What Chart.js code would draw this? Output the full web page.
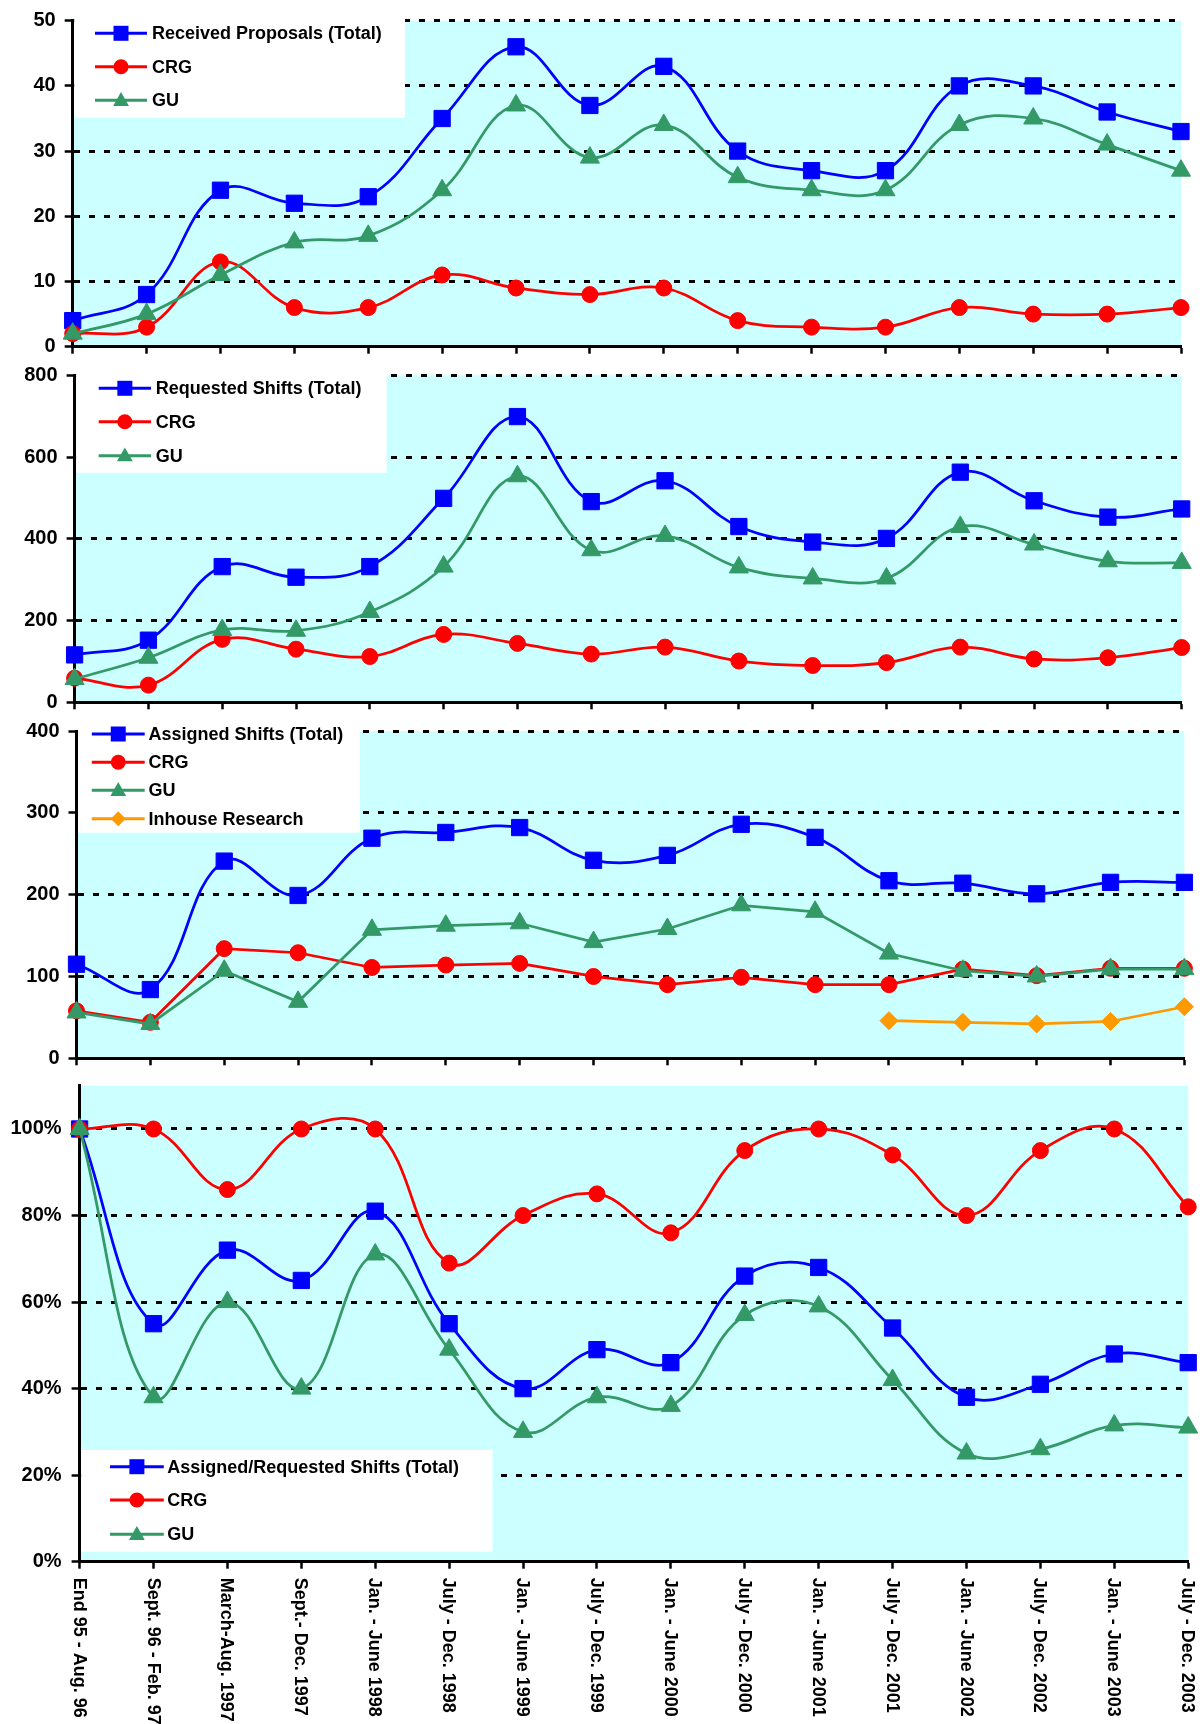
<!DOCTYPE html>
<html>
<head>
<meta charset="utf-8">
<title>Proposals and shifts</title>
<script src="https://cdn.jsdelivr.net/npm/chart.js@4.4.1/dist/chart.umd.min.js"></script>
<style>
    html, body { margin: 0; padding: 0; background: #fff; }
    body { width: 1202px; height: 1724px; position: relative; overflow: hidden; }
    canvas { position: absolute; left: 0; }
</style>
</head>
<body>
<canvas id="proposals" width="1202" height="362" style="top:0px"></canvas>
<canvas id="requested" width="1202" height="353" style="top:362px"></canvas>
<canvas id="assigned" width="1202" height="356" style="top:715px"></canvas>
<canvas id="ratio" width="1202" height="653" style="top:1071px"></canvas>
<script>
// =====================
// DATA
// =====================
const periods = [
    "End 95 - Aug. 96", "Sept. 96 - Feb. 97", "March-Aug. 1997", "Sept.- Dec. 1997",
    "Jan. - June 1998", "July - Dec. 1998", "Jan. - June 1999", "July - Dec. 1999",
    "Jan. - June 2000", "July - Dec. 2000", "Jan. - June 2001", "July - Dec. 2001",
    "Jan. - June 2002", "July - Dec. 2002", "Jan. - June 2003", "July - Dec. 2003"
];

const proposalsTotal = [4, 8, 24, 22, 23, 35, 46, 37, 43, 30, 27, 27, 40, 40, 36, 33];
const proposalsCRG   = [2, 3, 13, 6, 6, 11, 9, 8, 9, 4, 3, 3, 6, 5, 5, 6];
const proposalsGU    = [2, 5, 11, 16, 17, 24, 37, 29, 34, 26, 24, 24, 34, 35, 31, 27];
const proposalTicks  = [0, 10, 20, 30, 40, 50];

const requestedTotal = [116, 152, 332, 306, 332, 499, 699, 491, 542, 430, 392, 401, 563, 493, 453, 473];
const requestedCRG   = [59, 42, 154, 130, 112, 166, 144, 118, 135, 101, 90, 97, 135, 106, 109, 134];
const requestedGU    = [57, 109, 177, 175, 221, 332, 553, 372, 407, 330, 303, 303, 429, 386, 345, 341];
const requestedTicks = [0, 200, 400, 600, 800];

const assignedTotal   = [115, 84, 241, 199, 269, 276, 282, 242, 248, 286, 270, 217, 214, 201, 215, 215];
const assignedCRG     = [58, 44, 134, 129, 111, 114, 116, 100, 90, 99, 90, 90, 109, 101, 110, 110];
const assignedGU      = [56, 42, 107, 69, 157, 162, 165, 142, 158, 187, 179, 128, 107, 100, 109, 109];
const assignedInhouse = [null, null, null, null, null, null, null, null, null, null, null, 46, 44, 42, 45, 63];
const assignedTicks   = [0, 100, 200, 300, 400];

const ratioTotal = [100, 55, 72, 65, 81, 55, 40, 49, 46, 66, 68, 54, 38, 41, 48, 46];
const ratioCRG   = [100, 100, 86, 100, 100, 69, 80, 85, 76, 95, 100, 94, 80, 95, 100, 82];
const ratioGU    = [100, 38, 60, 40, 71, 49, 30, 38, 36, 57, 59, 42, 25, 26, 31.5, 31];
const ratioTicks = [0, 20, 40, 60, 80, 100];

// =====================
// STYLE
// =====================
const BLUE = '#0000ff', RED = '#ff0000', GREEN = '#339966', ORANGE = '#ff9900';
const CYAN = '#ccffff';
const FONT = '"Liberation Sans", Arial, Helvetica, sans-serif';
const RADIUS = { rect: 11.5, circle: 8, triangle: 11, rectRot: 9 };

function series(label, data, color, style, smooth, order) {
    return {
        label, data, order,
        borderColor: color, backgroundColor: color, borderWidth: 2.75,
        pointStyle: style, pointRadius: RADIUS[style], pointHoverRadius: RADIUS[style],
        pointBackgroundColor: color, pointBorderColor: color, pointBorderWidth: 1,
        tension: smooth ? 0.4 : 0, fill: false, clip: false, spanGaps: false
    };
}

function drawMarker(ctx, style, x, y, r, color) {
    ctx.fillStyle = color;
    ctx.beginPath();
    if (style === 'rect') {
        ctx.rect(x - r, y - r, 2 * r, 2 * r);
    } else if (style === 'circle') {
        ctx.arc(x, y, r, 0, Math.PI * 2);
    } else if (style === 'triangle') {
        ctx.moveTo(x, y - r * 1.1);
        ctx.lineTo(x + r * 1.05, y + r * 0.75);
        ctx.lineTo(x - r * 1.05, y + r * 0.75);
        ctx.closePath();
    } else {
        ctx.moveTo(x, y - r);
        ctx.lineTo(x + r, y);
        ctx.lineTo(x, y + r);
        ctx.lineTo(x - r, y);
        ctx.closePath();
    }
    ctx.fill();
}

// =====================
// PLUGINS
// =====================
const plotBackground = {
    id: 'plotBackground',
    beforeDraw(chart) {
        const { ctx, chartArea: a } = chart;
        ctx.save();
        ctx.fillStyle = CYAN;
        ctx.fillRect(a.left, a.top, a.right - a.left, a.bottom - a.top);
        ctx.restore();
    }
};

// white legend box sitting inside the plot, over the grid
const boxLegend = {
    id: 'boxLegend',
    beforeDatasetsDraw(chart, args, o) {
        const { ctx, chartArea: a } = chart;
        ctx.save();
        ctx.fillStyle = '#fff';
        ctx.fillRect(a.left + 1.5, o.top, o.right - a.left - 1.5, o.bottom - o.top);
        chart.data.datasets.forEach((ds, i) => {
            const y = o.rows[i];
            ctx.strokeStyle = ds.borderColor;
            ctx.lineWidth = 3;
            ctx.beginPath();
            ctx.moveTo(o.lineFrom, y);
            ctx.lineTo(o.lineTo, y);
            ctx.stroke();
            drawMarker(ctx, ds.pointStyle, (o.lineFrom + o.lineTo) / 2, y, 7.5, ds.borderColor);
            ctx.fillStyle = '#000';
            ctx.font = 'bold 18px ' + FONT;
            ctx.textAlign = 'left';
            ctx.textBaseline = 'middle';
            ctx.fillText(ds.label, o.textX, y + 1);
        });
        ctx.restore();
    }
};

// category labels written downwards under the bottom axis
const downLabels = {
    id: 'downLabels',
    afterDraw(chart, args, o) {
        if (!o.show) return;
        const { ctx, chartArea: a } = chart;
        const xs = chart.scales.x;
        ctx.save();
        ctx.font = 'bold 18px ' + FONT;
        ctx.fillStyle = '#000';
        ctx.textAlign = 'left';
        ctx.textBaseline = 'middle';
        periods.forEach((t, i) => {
            ctx.save();
            ctx.translate(xs.getPixelForValue(i) - 1, a.bottom + 16);
            ctx.rotate(Math.PI / 2);
            ctx.fillText(t, 0, 0);
            ctx.restore();
        });
        ctx.restore();
    }
};

// =====================
// PANELS
// =====================
function makePanel(id, p) {
    const canvas = document.getElementById(id);
    const top = parseFloat(canvas.style.top);
    const height = canvas.height;
    const local = v => v - top;

    return new Chart(canvas, {
        type: 'line',
        data: { labels: periods, datasets: p.datasets },
        plugins: [plotBackground, boxLegend, downLabels],
        options: {
            responsive: false, animation: false, events: [],
            layout: { padding: { top: local(p.area.top), right: 1202 - p.area.right, left: 0, bottom: 0 } },
            plugins: {
                legend: { display: false },
                tooltip: { enabled: false },
                boxLegend: {
                    top: local(p.legend.top), bottom: local(p.legend.bottom), right: p.legend.right,
                    rows: p.legend.rows.map(local), lineFrom: p.legend.lineFrom, lineTo: p.legend.lineTo,
                    textX: p.legend.textX
                },
                downLabels: { show: !!p.labels }
            },
            scales: {
                x: {
                    type: 'category', offset: false,
                    ticks: { display: false, autoSkip: false },
                    grid: { drawOnChartArea: false, drawTicks: true, tickLength: 7, tickColor: '#000', tickWidth: 2.5 },
                    border: { color: '#000', width: 3 },
                    afterFit: s => { s.height = height - local(p.area.bottom); s.paddingLeft = 0; s.paddingRight = 0; }
                },
                y: {
                    min: 0, max: p.yMax,
                    afterBuildTicks: s => { s.ticks = p.ticks.map(v => ({ value: v })); },
                    ticks: {
                        color: '#000', padding: p.tickPad,
                        font: { family: FONT, size: 20, weight: 'bold' },
                        callback: v => v + (p.suffix || '')
                    },
                    grid: {
                        color: c => (c.tick && c.tick.value === 0) ? 'rgba(0,0,0,0)' : '#000',
                        lineWidth: 3, tickColor: '#000', tickWidth: 2.5, tickLength: 8
                    },
                    border: { color: '#000', width: 3, dash: [6, 9] },
                    afterFit: s => { s.width = p.area.left; s.paddingTop = 0; s.paddingBottom = 0; }
                }
            }
        }
    });
}

makePanel('proposals', {
    area: { left: 72.7, right: 1181, top: 20.7, bottom: 346.7 },
    yMax: 50, ticks: proposalTicks, tickPad: 9,
    legend: { top: 17, bottom: 117.7, right: 405, rows: [33.3, 66.7, 100.3], lineFrom: 95, lineTo: 147, textX: 152 },
    datasets: [
        series('Received Proposals (Total)', proposalsTotal, BLUE, 'rect', true, 3),
        series('CRG', proposalsCRG, RED, 'circle', true, 2),
        series('GU', proposalsGU, GREEN, 'triangle', true, 1)
    ]
});

makePanel('requested', {
    area: { left: 74.6, right: 1181.7, top: 375.3, bottom: 702.3 },
    yMax: 800, ticks: requestedTicks, tickPad: 9,
    legend: { top: 372, bottom: 472.7, right: 386.5, rows: [388.3, 421.7, 455.7], lineFrom: 98.7, lineTo: 151, textX: 155.8 },
    datasets: [
        series('Requested Shifts (Total)', requestedTotal, BLUE, 'rect', true, 3),
        series('CRG', requestedCRG, RED, 'circle', true, 2),
        series('GU', requestedGU, GREEN, 'triangle', true, 1)
    ]
});

makePanel('assigned', {
    area: { left: 76.5, right: 1184.4, top: 731, bottom: 1058.3 },
    yMax: 400, ticks: assignedTicks, tickPad: 9,
    legend: { top: 728, bottom: 832.7, right: 359.7, rows: [734, 762.3, 790.3, 818.7], lineFrom: 91.8, lineTo: 144.7, textX: 148.5 },
    datasets: [
        series('Assigned Shifts (Total)', assignedTotal, BLUE, 'rect', true, 3),
        series('CRG', assignedCRG, RED, 'circle', false, 2),
        series('GU', assignedGU, GREEN, 'triangle', false, 1),
        series('Inhouse Research', assignedInhouse, ORANGE, 'rectRot', false, 0)
    ]
});

makePanel('ratio', {
    area: { left: 79.6, right: 1188.2, top: 1085.7, bottom: 1561.7 },
    yMax: 110, ticks: ratioTicks, tickPad: 10, suffix: '%', labels: true,
    legend: { top: 1450, bottom: 1551.7, right: 492.5, rows: [1466.7, 1500, 1534.3], lineFrom: 110, lineTo: 163.8, textX: 167.2 },
    datasets: [
        series('Assigned/Requested Shifts (Total)', ratioTotal, BLUE, 'rect', true, 3),
        series('CRG', ratioCRG, RED, 'circle', true, 2),
        series('GU', ratioGU, GREEN, 'triangle', true, 1)
    ]
});
</script>
</body>
</html>
